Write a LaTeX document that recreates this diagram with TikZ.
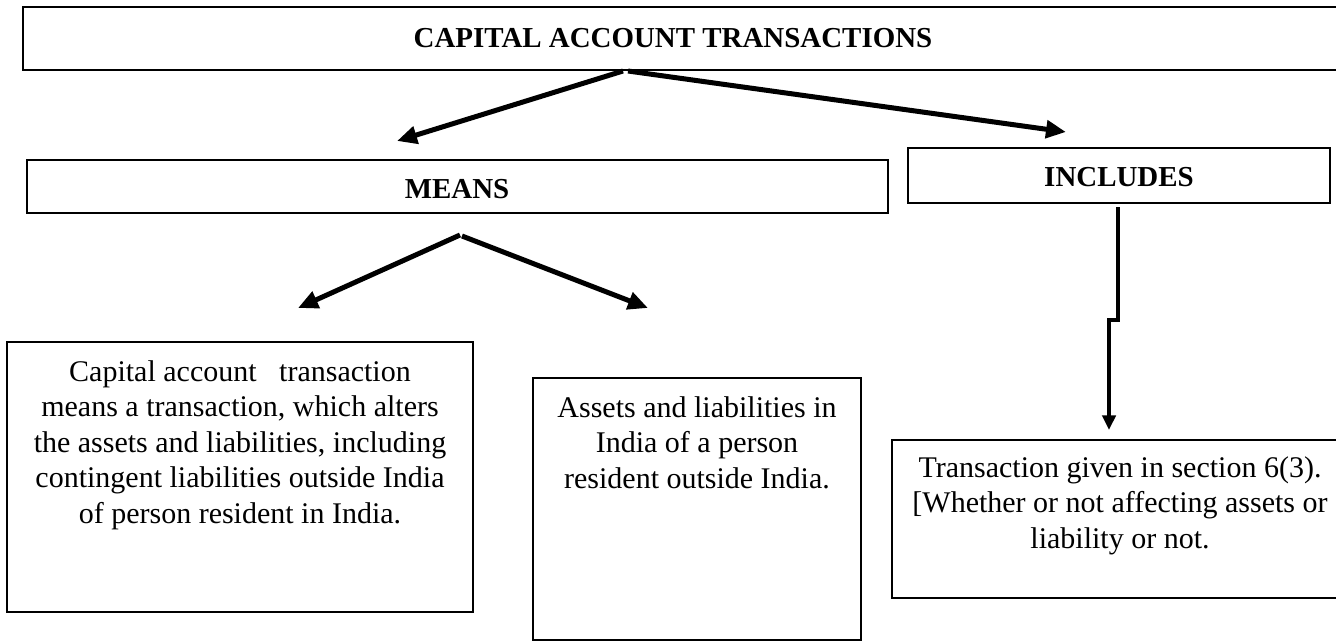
\documentclass[tikz,border=0pt]{standalone}
\usepackage{fontspec}
\setmainfont{Liberation Serif}
\usetikzlibrary{arrows.meta,fit}
\begin{document}
\begin{tikzpicture}[x=0.75pt,y=-0.75pt,
  boxstyle/.style={draw, line width=1.3pt, inner sep=0pt},
  headtxt/.style={font=\fontsize{21.7}{26}\selectfont\bfseries, inner sep=0pt, anchor=base},
  bodytxt/.style={font=\fontsize{22.5}{26.6}\selectfont, align=center, inner sep=0pt, anchor=base},
  bigarrow/.style={line width=3.75pt, -{Triangle[length=15pt,width=13pt]}},
  thinarrow/.style={line width=2.6pt, -{Triangle[length=11pt,width=10pt]}}]
\useasboundingbox (0,0) rectangle (1336,643);
\clip (0,0) rectangle (1336,643);
\fill[white] (0,0) rectangle (1336,643);

% boxes
\node[boxstyle, fit={(23,7) (1345,70)}] (top) {};
\node[boxstyle, fit={(27,160) (888,213)}] (means) {};
\node[boxstyle, fit={(908,148) (1330,203)}] (incl) {};
\node[boxstyle, fit={(7,342) (473,612)}] (b1) {};
\node[boxstyle, fit={(533,378) (861,640)}] (b2) {};
\node[boxstyle, fit={(892,440) (1345,598)}] (b3) {};

% texts (base = baseline of the last line)
\node[headtxt] (toptxt) at (673,47) {CAPITAL ACCOUNT TRANSACTIONS};
\node[headtxt] (meanstxt) at (457,198) {MEANS};
\node[headtxt] (incltxt) at (1119,186) {INCLUDES};
\node[bodytxt] (t1) at (240,523) {Capital account\hspace{0.75em}transaction\\means a transaction, which alters\\the assets and liabilities, including\\contingent liabilities outside India\\of person resident in India.};
\node[bodytxt] (t2) at (697,488) {Assets and liabilities in\\India of a person\\resident outside India.};
\node[bodytxt] (t3) at (1120,548) {Transaction given in section 6(3).\\{}[Whether or not affecting assets or\\liability or not.};

% connector points
\coordinate (o1) at (623,71);
\coordinate (o2) at (628,71);
\coordinate (tipL) at (397,141);
\coordinate (tipR) at (1066,132);
\coordinate (m1) at (460,235);
\coordinate (m2) at (462,236);
\coordinate (tipA) at (298,308);
\coordinate (tipB) at (648,308);
\coordinate (i1) at (1118,207);
\coordinate (tipI) at (1109,430);

\draw[bigarrow] (o1) -- (tipL);
\draw[bigarrow] (o2) -- (tipR);
\draw[bigarrow] (m1) -- (tipA);
\draw[bigarrow] (m2) -- (tipB);
\draw[thinarrow] (i1) -- (1118,320) -- (1109,320) -- (tipI);
\end{tikzpicture}
\end{document}
